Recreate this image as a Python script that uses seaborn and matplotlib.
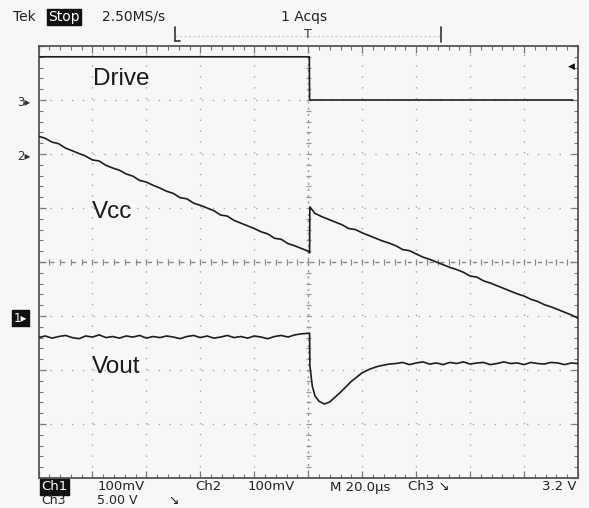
import numpy as np
import matplotlib
matplotlib.use("Agg")
import matplotlib.pyplot as plt
from matplotlib.lines import Line2D
import seaborn as sns
import pandas as pd

# ---------------- data (screen divisions; time in microseconds, 20 us/div) ----------------
t_pre = np.arange(0, 100.1, 2.5)
t_post = np.arange(102.5, 200.1, 2.5)

drive_t = [0.5, 100.4, 100.5, 198.0]
drive_v = [3.80, 3.80, 3.00, 3.00]

vcc_pre = [2.33, 2.29, 2.22, 2.19, 2.11, 2.06, 2.01, 1.96, 1.89, 1.87,
           1.79, 1.74, 1.70, 1.63, 1.59, 1.51, 1.48, 1.42, 1.37, 1.31,
           1.27, 1.19, 1.17, 1.09, 1.05, 1.00, 0.95, 0.87, 0.85, 0.77,
           0.72, 0.67, 0.62, 0.56, 0.52, 0.44, 0.42, 0.34, 0.30, 0.25, 0.20]
vcc_step_t = [100.5, 100.6]
vcc_step_v = [0.17, 1.02]
vcc_post = [0.90, 0.84, 0.79, 0.74, 0.69, 0.62, 0.60, 0.54, 0.49, 0.44,
            0.39, 0.35, 0.30, 0.23, 0.21, 0.15, 0.09, 0.05, 0.00, -0.05,
            -0.10, -0.14, -0.19, -0.26, -0.28, -0.35, -0.39, -0.44, -0.49, -0.54,
            -0.59, -0.63, -0.69, -0.73, -0.79, -0.83, -0.88, -0.93, -0.98, -1.04]

vout_pre = [-1.40, -1.37, -1.41, -1.38, -1.36, -1.40, -1.42, -1.37, -1.39, -1.35,
            -1.40, -1.38, -1.41, -1.37, -1.39, -1.36, -1.41, -1.38, -1.40, -1.37,
            -1.39, -1.42, -1.38, -1.36, -1.40, -1.37, -1.41, -1.39, -1.36, -1.40,
            -1.38, -1.41, -1.37, -1.39, -1.42, -1.38, -1.36, -1.39, -1.35, -1.33, -1.32]
vout_dip_t = [100.5, 100.6, 101.5, 102.5, 104, 106, 108, 110, 112, 114,
              116, 118, 120, 123, 126, 130]
vout_dip_v = [-1.32, -1.92, -2.30, -2.48, -2.58, -2.63, -2.59, -2.50, -2.41, -2.31,
              -2.21, -2.13, -2.05, -1.98, -1.93, -1.89]
t_tail = np.arange(132.5, 200.1, 2.5)
vout_tail = [-1.88, -1.86, -1.90, -1.87, -1.85, -1.89, -1.87, -1.90, -1.86, -1.88,
             -1.85, -1.89, -1.87, -1.86, -1.90, -1.88, -1.85, -1.88, -1.87, -1.90,
             -1.86, -1.88, -1.89, -1.86, -1.87, -1.90, -1.87, -1.88]

labels = ["Drive", "Vcc", "Vout"]
label_pos_t = [20.3, 19.8, 19.8]
label_pos_v = [3.38, 0.92, -1.94]

header_left = "Tek"
header_state = "Stop"
header_rate = "2.50MS/s"
header_acq = "1 Acqs"
footer1 = [("100mV", 98), ("Ch2", 195), ("100mV", 248), ("M 20.0\u00b5s", 330),
           ("Ch3 \u2198", 408), ("3.2 V", 542)]
footer2 = [("5.00 V", 97), ("\u2198", 168)]

# ---------------- build frames ----------------
vcc_df = pd.DataFrame({"t": np.concatenate([t_pre, vcc_step_t, t_post]),
                       "v": np.concatenate([vcc_pre, vcc_step_v, vcc_post])})
vout_df = pd.DataFrame({"t": np.concatenate([t_pre, vout_dip_t, t_tail]),
                        "v": np.concatenate([vout_pre, vout_dip_v, vout_tail])})
drive_df = pd.DataFrame({"t": drive_t, "v": drive_v})

sns.set_theme(style="white")
plt.rcParams['font.family'] = ['DejaVu Sans']

W, H = 589, 508
bg = "#f7f7f7"
fig = plt.figure(figsize=(W / 100, H / 100), dpi=100, facecolor=bg)
L, R, T, B = 38.5, 578, 46, 478
ax = fig.add_axes([L / W, 1 - B / H, (R - L) / W, (B - T) / H])
ax.set_facecolor(bg)
ax.set_xlim(0, 200)
ax.set_ylim(-4, 4)

# graticule
dot_style = (0, (1.0, 6.8))
for k in range(1, 10):
    if k == 5:
        continue
    ax.axvline(20 * k, color="#a8a8a8", lw=1.0, ls=dot_style, zorder=1)
for k in range(-3, 4):
    if k == 0:
        continue
    ax.axhline(k, color="#a8a8a8", lw=1.0, ls=dot_style, zorder=1)
ax.axhline(0, color="#888888", lw=1.0, ls=(0, (3, 4.8)), zorder=1)
ax.axvline(100, color="#999999", lw=1.0, ls=(0, (1.5, 3)), zorder=1)
ax.vlines(np.arange(4, 200, 4), -0.06, 0.06, color="#888888", lw=0.9, zorder=1)
ax.hlines(np.arange(-3.8, 4, 0.2), 99.0, 101.0, color="#999999", lw=0.9, zorder=1)

ax.set_xticks(np.arange(0, 201, 20))
ax.set_yticks(np.arange(-4, 4.1, 1))
ax.set_xticks(np.arange(0, 201, 4), minor=True)
ax.set_yticks(np.arange(-4, 4.01, 0.2), minor=True)
ax.tick_params(which="both", direction="in", top=True, right=True, left=True, bottom=True,
               labelbottom=False, labelleft=False, color="#777777")
ax.tick_params(which="major", length=5, width=0.9)
ax.tick_params(which="minor", length=3, width=0.8)
for s in ax.spines.values():
    s.set_color("#555555")
    s.set_linewidth(1.3)

# traces
trace_c = "#1e1e1e"
sns.lineplot(data=drive_df, x="t", y="v", ax=ax, color=trace_c, lw=1.2,
             estimator=None, sort=False, zorder=3)
sns.lineplot(data=vcc_df, x="t", y="v", ax=ax, color=trace_c, lw=1.2,
             estimator=None, sort=False, zorder=3)
sns.lineplot(data=vout_df, x="t", y="v", ax=ax, color=trace_c, lw=1.2,
             estimator=None, sort=False, zorder=3)
ax.set_xlabel("")
ax.set_ylabel("")

for lab, tx, vy in zip(labels, label_pos_t, label_pos_v):
    ax.text(tx, vy, lab, fontsize=17.5, family="Liberation Sans", color="#1a1a1a",
            va="center", ha="left", zorder=4)

# trigger level marker on the right
ax.text(198.8, 3.62, "\u25c0", fontsize=6.5, ha="right", va="center", color="#111111",
        zorder=4)

# channel markers on the left
fig.text(17 / W, 1 - 102 / H, "3\u25b8", fontsize=8.5, color="#333333", va="center")
fig.text(17 / W, 1 - 157 / H, "2\u25b8", fontsize=8.5, color="#333333", va="center")
fig.text(14 / W, 1 - 318 / H, "1\u25b8", fontsize=8.5, color="white", va="center",
         bbox=dict(boxstyle="square,pad=0.15", fc="#111111", ec="#111111"))

# header
fy = 1 - 17 / H
fig.text(13 / W, fy, header_left, fontsize=10, va="center", color="#222222")
fig.text(48 / W, fy, header_state, fontsize=10, va="center", color="white",
         bbox=dict(boxstyle="square,pad=0.1", fc="#111111", ec="#111111"))
fig.text(102 / W, fy, header_rate, fontsize=10, va="center", color="#222222")
fig.text(281 / W, fy, header_acq, fontsize=10, va="center", color="#222222")

# record bracket row
by = 1 - 36 / H
fig.add_artist(Line2D([175 / W, 440 / W], [by, by], color="#c8c8c8", lw=0.8,
                      ls=(0, (2, 2))))
fig.add_artist(Line2D([175 / W, 175 / W], [1 - 27 / H, 1 - 41 / H], color="#333333", lw=1.2))
fig.add_artist(Line2D([175 / W, 180 / W], [1 - 41 / H, 1 - 41 / H], color="#333333", lw=1.2))
fig.add_artist(Line2D([441 / W, 441 / W], [1 - 27 / H, 1 - 42 / H], color="#333333", lw=1.2))
fig.text(308 / W, 1 - 34 / H, "T", fontsize=9, ha="center", va="center", color="#333333")

# footer
f1 = 1 - 487 / H
fig.text(41 / W, f1, "Ch1", fontsize=9.5, va="center", color="white",
         bbox=dict(boxstyle="square,pad=0.1", fc="#111111", ec="#111111"))
for txt, px in footer1:
    fig.text(px / W, f1, txt, fontsize=9.5, va="center", color="#222222")
f2 = 1 - 500 / H
fig.text(41 / W, f2, "Ch3", fontsize=9, va="center", color="#222222")
for txt, px in footer2:
    fig.text(px / W, f2, txt, fontsize=9, va="center", color="#222222")

fig.savefig("out.png", dpi=100, facecolor=bg)
